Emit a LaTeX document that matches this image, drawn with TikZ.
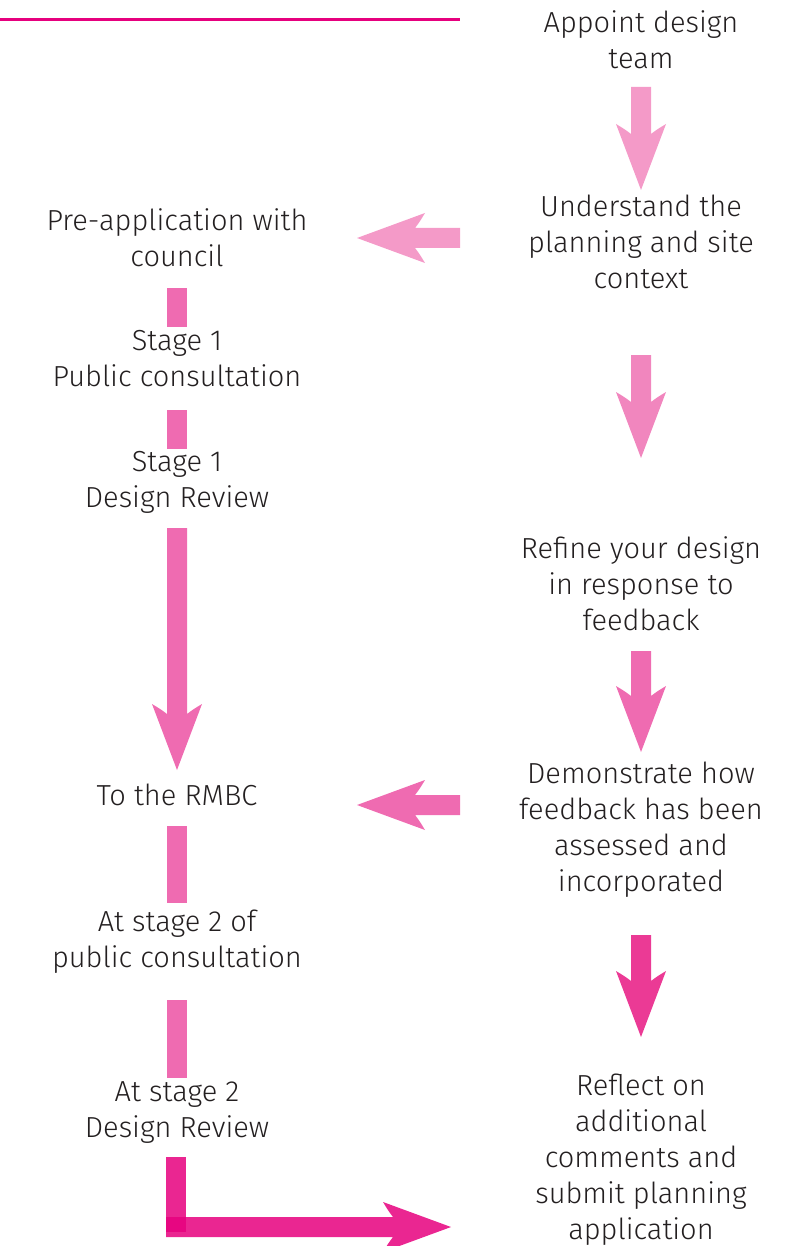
\documentclass[tikz,border=0pt]{standalone}
\usepackage{fontspec}
\setmainfont{Fira Sans}[UprightFont={* Light}]
\definecolor{txt}{HTML}{231F20}
\definecolor{rule}{HTML}{E6007E}
\definecolor{pkA}{HTML}{F49AC8}
\definecolor{pkB}{HTML}{F186BE}
\definecolor{pkC}{HTML}{EF6BB1}
\definecolor{pkD}{HTML}{EB3A95}
\definecolor{pkE}{HTML}{E6007E}
\begin{document}
\begin{tikzpicture}[x=1pt,y=-1pt,
  lbl/.style={align=center,font=\fontsize{29}{36}\selectfont,text=txt,inner sep=0pt,anchor=north},
  pics/darr/.style args={#1/#2}{code={
    \fill[#2] (-10,0) -- (-10,{#1-56}) .. controls (-15,{#1-60}) and (-20,{#1-63}) .. (-25,{#1-66})
      -- (0,#1) -- (25,{#1-66}) .. controls (20,{#1-63}) and (15,{#1-60}) .. (10,{#1-56}) -- (10,0) -- cycle;}},
  pics/larr/.style args={#1/#2}{code={
    \fill[#2] (0,-10) -- ({-(#1-58)},-10) .. controls ({-(#1-62)},-15) and ({-(#1-65)},-20) .. ({-(#1-68)},-25)
      -- (-#1,0) -- ({-(#1-68)},25) .. controls ({-(#1-65)},20) and ({-(#1-62)},15) .. ({-(#1-58)},10) -- (0,10) -- cycle;}},
  pics/rarr/.style args={#1/#2}{code={
    \fill[#2] (0,-10) -- ({#1-58},-10) .. controls ({#1-62},-15) and ({#1-65},-20) .. ({#1-68},-25)
      -- (#1,0) -- ({#1-68},25) .. controls ({#1-65},20) and ({#1-62},15) .. ({#1-58},10) -- (0,10) -- cycle;}},
  bar/.style={fill=#1}
]
\useasboundingbox (0,0) rectangle (795,1246);
\draw[rule,line width=3pt] (0,20) -- (460,20);

% right column
\node[lbl] (r1) at (641,10) {Appoint design\\team};
\node[lbl] (r2) at (641,195) {Understand the\\planning and site\\context};
\node[lbl] (r3) at (641,536) {Refine your design\\in response to\\feedback};
\node[lbl] (r4) at (641,762) {Demonstrate how\\feedback has been\\assessed and\\incorporated};
\node[lbl] (r5) at (641,1074) {Reflect on\\additional\\comments and\\submit planning\\application};

% left column
\node[lbl] (l1) at (177,208) {Pre-application with\\council};
\node[lbl] (l2) at (177,330) {Stage 1\\Public consultation};
\node[lbl] (l3) at (177,451) {Stage 1\\Design Review};
\node[lbl] (l4) at (177,784) {To the RMBC};
\node[lbl] (l5) at (177,910) {At stage 2 of\\public consultation};
\node[lbl] (l6) at (177,1081) {At stage 2\\Design Review};

% right column arrows
\pic at (641,87) {darr={103/pkA}};
\pic at (641,355) {darr={103/pkB}};
\pic at (641,651) {darr={101/pkC}};
\pic at (641,935) {darr={102/pkD}};

% left arrows
\pic at (460,238) {larr={103/pkA}};
\pic at (460,805) {larr={103/pkC}};

% left column bars and arrow
\fill[bar=pkC] (167,288) rectangle (187,327);
\fill[bar=pkC] (167,410) rectangle (187,449);
\pic at (177,528) {darr={242/pkC}};
\fill[bar=pkC] (167,826) rectangle (187,903);
\fill[bar=pkC] (167,1000) rectangle (187,1078);

% final L arrow
\fill[pkE,opacity=0.85] (166,1157) rectangle (186,1232);
\pic[opacity=0.85] at (166,1227) {rarr={285/pkE}};
\end{tikzpicture}
\end{document}
